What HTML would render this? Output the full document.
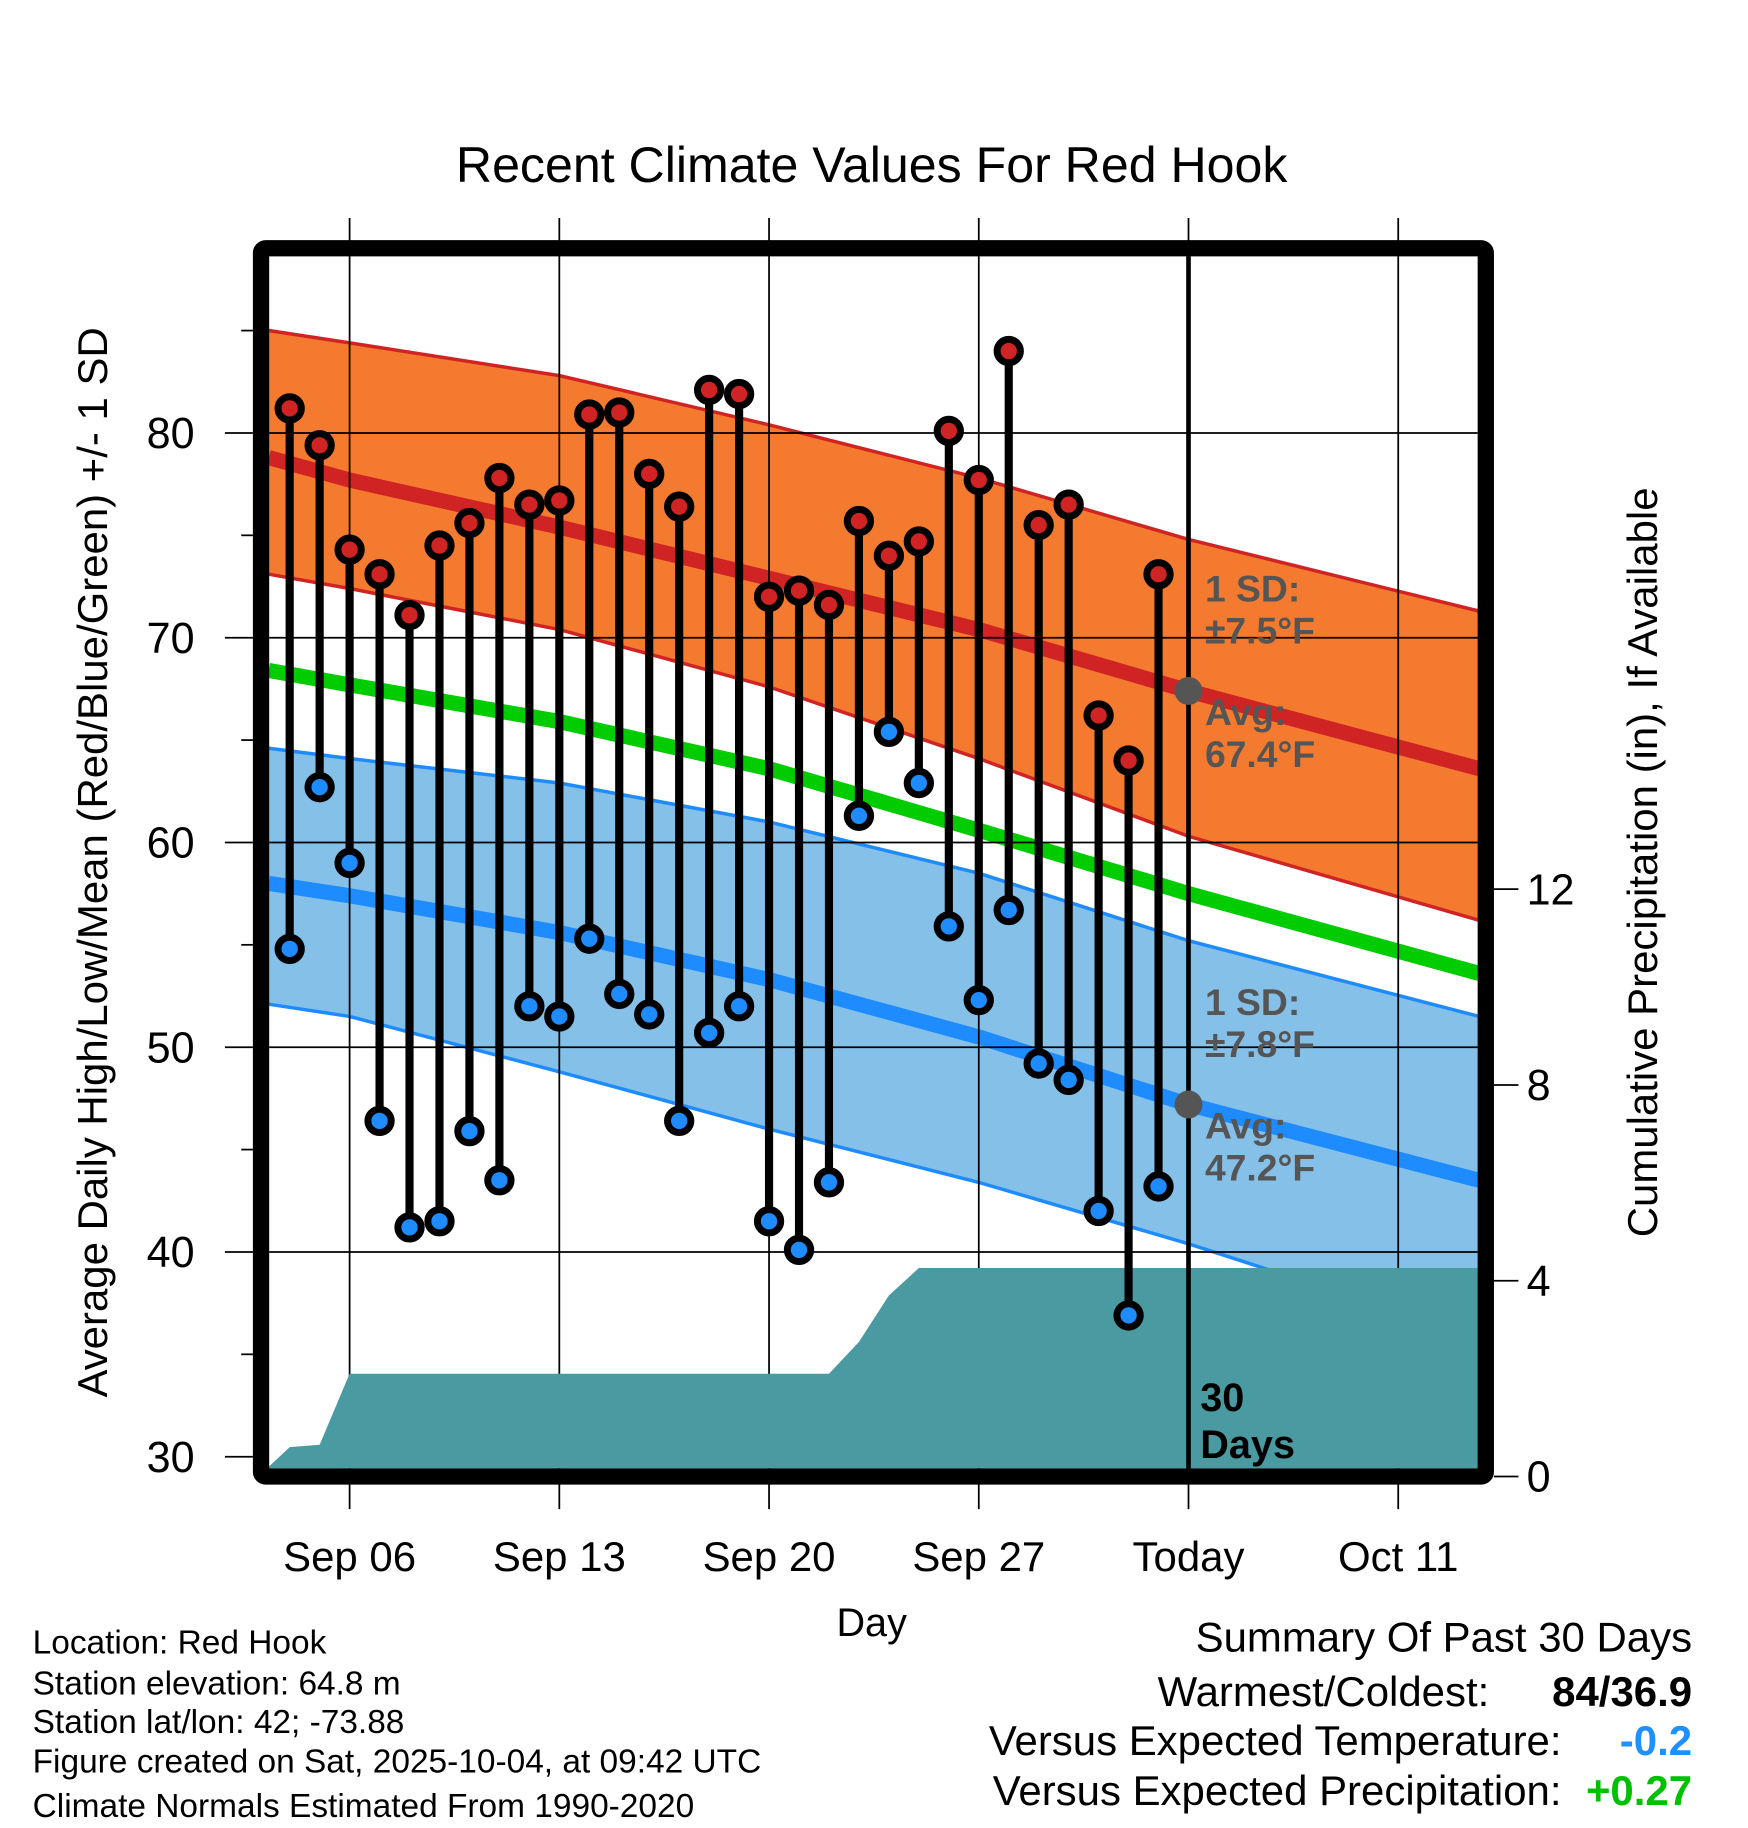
<!DOCTYPE html>
<html><head><meta charset="utf-8"><style>
html,body{margin:0;padding:0;background:#fff;}
svg{display:block;font-family:"Liberation Sans",sans-serif;}
</style></head><body>
<svg id="chart" width="1748" height="1828" viewBox="0 0 1500 1568.6" xmlns="http://www.w3.org/2000/svg">
<g id="bands"></g><g id="grid"></g><g id="precip"></g><g id="stems"></g><g id="frame"></g><g id="labels"></g>
</svg>
<script>
// day offsets relative to Sep 06
const dates=["Sep 04","Sep 05","Sep 06","Sep 07","Sep 08","Sep 09","Sep 10","Sep 11","Sep 12","Sep 13","Sep 14","Sep 15","Sep 16","Sep 17","Sep 18","Sep 19","Sep 20","Sep 21","Sep 22","Sep 23","Sep 24","Sep 25","Sep 26","Sep 27","Sep 28","Sep 29","Sep 30","Oct 01","Oct 02","Oct 03"];
const highs=[81.2,79.4,74.3,73.1,71.1,74.5,75.6,77.8,76.5,76.7,80.9,81.0,78.0,76.4,82.1,81.9,72.0,72.3,71.6,75.7,74.0,74.7,80.1,77.7,84.0,75.5,76.5,66.2,64.0,73.1];
const lows=[54.8,62.7,59.0,46.4,41.2,41.5,45.9,43.5,52.0,51.5,55.3,52.6,51.6,46.4,50.7,52.0,41.5,40.1,43.4,61.3,65.4,62.9,55.9,52.3,56.7,49.2,48.4,42.0,36.9,43.2];
const normDays=[-2.7,0,7,14,21,28,37.7];
const normHigh=[78.8,77.7,75.4,72.9,70.4,67.4,63.6];
const normHighUp=[85.0,84.4,82.8,80.4,77.8,74.8,71.3];
const normHighLo=[73.1,72.4,70.4,67.6,64.1,60.3,56.2];
const normMean=[68.4,67.7,65.9,63.6,60.6,57.5,53.6];
const normLow=[58.0,57.4,55.6,53.3,50.5,47.2,43.5];
const normLowUp=[64.6,64.1,62.9,61.0,58.5,55.2,51.5];
const normLowLo=[52.1,51.5,48.8,46.0,43.4,40.4,35.8];
const precipDays=[-2.7,-2,-1,0,16,17,18,19,37.7];
const precipVals=[0.2,0.6,0.65,2.1,2.1,2.75,3.7,4.26,4.26];
const tempTicks=[30,40,50,60,70,80];
const precipTicks=[0,4,8,12];
const xTickDays=[0,7,14,21,28,35];
const xTickLabels=["Sep 06","Sep 13","Sep 20","Sep 27","Today","Oct 11"];

const NS="http://www.w3.org/2000/svg";
const X=d=>300+d*25.71;
const Y=t=>1250-(t-30)*17.57;
const YP=p=>1267-p*42;
const L=231,R=1268,T=220,B=1260;
function el(tag,attrs,parent,text){const e=document.createElementNS(NS,tag);for(const k in attrs)e.setAttribute(k,attrs[k]);if(text!==undefined)e.textContent=text;parent.appendChild(e);return e;}
const g=id=>document.getElementById(id);
function pts(days,vals){return days.map((d,i)=>X(d).toFixed(1)+","+Y(vals[i]).toFixed(1));}
function band(up,lo,fill,stroke,name){
  const p=pts(normDays,up).concat(pts(normDays,lo).reverse()).join(" ");
  const e=el("polygon",{points:p,fill:fill},g("bands"));
  
  
  const a=el("polyline",{points:pts(normDays,up).join(" "),fill:"none",stroke:stroke,"stroke-width":3},g("bands"));
  
  
  const b=el("polyline",{points:pts(normDays,lo).join(" "),fill:"none",stroke:stroke,"stroke-width":3},g("bands"));
  
  
}
function line(vals,color,w,name){
  const e=el("polyline",{points:pts(normDays,vals).join(" "),fill:"none",stroke:color,"stroke-width":w},g("bands"));
  
  
}
band(normHighUp,normHighLo,"#f47a30","#d02424","high-sd-band");
band(normLowUp,normLowLo,"#84c0e8","#1e8cff","low-sd-band");
line(normHigh,"#d02424",13,"normal-high-line");
line(normLow,"#1e8cff",13,"normal-low-line");
line(normMean,"#00cc00",13,"normal-mean-line");

tempTicks.forEach(t=>{
  if(t>30){const e=el("line",{x1:L,x2:R,y1:Y(t),y2:Y(t),stroke:"#000","stroke-width":1.5},g("grid"));
  
  }
});
xTickDays.forEach(d=>{
  const e=el("line",{x1:X(d),x2:X(d),y1:187,y2:1295,stroke:"#000","stroke-width":1.5},g("grid"));
  
  
});

{
  const p=precipDays.map((d,i)=>X(d).toFixed(1)+","+Math.min(B,YP(precipVals[i])).toFixed(1));
  p.push(X(37.7)+","+B, L+","+B);
  const e=el("polygon",{points:p.join(" "),fill:"#4a9aa2"},g("precip"));
  
  
}

highs.forEach((h,i)=>{
  const x=X(i-2);
  const s=el("line",{x1:x,x2:x,y1:Y(h),y2:Y(lows[i]),stroke:"#000","stroke-width":7},g("stems"));
  
  
  const c1=el("circle",{cx:x,cy:Y(h),r:10,fill:"#d02424",stroke:"#000","stroke-width":6},g("stems"));
  
  
  const c2=el("circle",{cx:x,cy:Y(lows[i]),r:10,fill:"#1e8cff",stroke:"#000","stroke-width":6},g("stems"));
  
  
});
{
  const t=el("line",{x1:X(28),x2:X(28),y1:T,y2:B,stroke:"#000","stroke-width":4},g("stems"));
  
  
  const a=el("circle",{cx:X(28),cy:Y(normHigh[5]),r:12,fill:"#555"},g("stems"));
  
  
  const b=el("circle",{cx:X(28),cy:Y(normLow[5]),r:12,fill:"#555"},g("stems"));
  
  
}
{
  const f=el("rect",{x:224,y:213,width:1051,height:1054,fill:"none",stroke:"#000","stroke-width":14,rx:4},g("frame"));
  
  
}
const lab=g("labels");
tempTicks.forEach(t=>{
  const k=el("line",{x1:193,x2:217,y1:Y(t),y2:Y(t),stroke:"#000","stroke-width":1.5},lab);
  
  
  const m=el("line",{x1:207,x2:217,y1:Y(t+5),y2:Y(t+5),stroke:"#000","stroke-width":1.5},lab);
  
  
  const e=el("text",{x:167,y:Y(t)+13,"font-size":37,"text-anchor":"end"},lab,String(t));
  
  
});
precipTicks.forEach(p=>{
  const k=el("line",{x1:1282,x2:1303,y1:YP(p),y2:YP(p),stroke:"#000","stroke-width":1.5},lab);
  
  
  const e=el("text",{x:1310,y:YP(p)+13,"font-size":37},lab,String(p));
  
  
});
xTickDays.forEach((d,i)=>{
  const e=el("text",{x:X(d),y:1348,"font-size":36,"text-anchor":"middle"},lab,xTickLabels[i]);
  
  
});
</script>
<script>
(function(){
const NS="http://www.w3.org/2000/svg";
const lab=document.getElementById("labels");
function t(x,y,s,txt,name,extra){const e=document.createElementNS(NS,"text");e.setAttribute("x",x);e.setAttribute("y",y);e.setAttribute("font-size",s);for(const k in (extra||{}))e.setAttribute(k,extra[k]);e.textContent=txt;


lab.appendChild(e);return e;}
t(748,156,43,"Recent Climate Values For Red Hook","chart-title",{"text-anchor":"middle"});
t(748,1404,34,"Day","x-axis-title",{"text-anchor":"middle"});
t(92,740,36,"Average Daily High/Low/Mean (Red/Blue/Green) +/- 1 SD","y-axis-title",{"text-anchor":"middle",transform:"rotate(-90 92 740)"});
t(1422,740,36,"Cumulative Precipitation (in), If Available","right-axis-title",{"text-anchor":"middle",transform:"rotate(-90 1422 740)"});
const gb={"font-weight":"bold",fill:"#555"};
t(1034,516,32,"1 SD:","high-sd-label",gb);
t(1034,552,32,"±7.5°F","high-sd-value",gb);
t(1034,622,32,"Avg:","high-avg-label",gb);
t(1034,658,32,"67.4°F","high-avg-value",gb);
t(1034,871,32,"1 SD:","low-sd-label",gb);
t(1034,907,32,"±7.8°F","low-sd-value",gb);
t(1034,977,32,"Avg:","low-avg-label",gb);
t(1034,1013,32,"47.2°F","low-avg-value",gb);
t(1030,1211,34,"30","days-count",{"font-weight":"bold"});
t(1030,1251,34,"Days","days-label",{"font-weight":"bold"});
const info=["Location: Red Hook","Station elevation: 64.8 m","Station lat/lon: 42; -73.88","Figure created on Sat, 2025-10-04, at 09:42 UTC","Climate Normals Estimated From 1990-2020"];
const iy=[1419,1454,1487,1521,1559];
info.forEach((s,i)=>t(28,iy[i],28.7,s,"station-info-line"));
t(1452,1417,36,"Summary Of Past 30 Days","summary-title",{"text-anchor":"end"});
t(1278,1464,36,"Warmest/Coldest:","warmest-coldest-label",{"text-anchor":"end"});
t(1452,1464,36,"84/36.9","warmest-coldest-value",{"text-anchor":"end","font-weight":"bold"});
t(1340,1506,36,"Versus Expected Temperature:","temp-departure-label",{"text-anchor":"end"});
t(1452,1506,36,"-0.2","temp-departure-value",{"text-anchor":"end","font-weight":"bold",fill:"#1e90ff"});
t(1340,1549,36,"Versus Expected Precipitation:","precip-departure-label",{"text-anchor":"end"});
t(1452,1549,36,"+0.27","precip-departure-value",{"text-anchor":"end","font-weight":"bold",fill:"#00c000"});
})();
</script>
</body></html>
